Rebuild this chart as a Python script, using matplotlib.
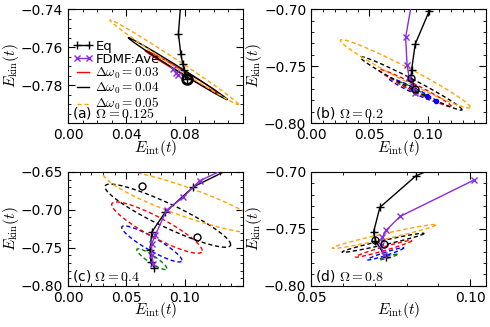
import numpy as np
import matplotlib
matplotlib.use("Agg")
import matplotlib.pyplot as plt
from matplotlib.ticker import AutoMinorLocator

plt.rcParams['mathtext.fontset'] = 'cm'
plt.rcParams['font.family'] = ['DejaVu Sans']
plt.rcParams['font.size'] = 10

PURPLE = 'blueviolet'
ORANGE = 'orange'

# panel settings
panel_tags = ['(a) $\\Omega=0.125$', '(b) $\\Omega=0.2$', '(c) $\\Omega=0.4$', '(d) $\\Omega=0.8$']
xlims = [(0.0, 0.12), (0.0, 0.15), (0.0, 0.15), (0.05, 0.105)]
ylims = [(-0.80, -0.74), (-0.80, -0.70), (-0.80, -0.65), (-0.80, -0.70)]
xticks = [[0.0, 0.04, 0.08], [0.0, 0.05, 0.10], [0.0, 0.05, 0.10], [0.05, 0.10]]
yticks = [[-0.78, -0.76, -0.74], [-0.80, -0.75, -0.70], [-0.80, -0.75, -0.70, -0.65], [-0.80, -0.75, -0.70]]

# equilibrium path (Eq)
eq_x = [
    [0.0780, 0.0757, 0.0773, 0.0787, 0.0795, 0.0805, 0.0815],
    [0.108, 0.1011, 0.0892, 0.0861, 0.0855, 0.0869, 0.0892],
    [0.140, 0.1075, 0.0832, 0.0717, 0.0703, 0.0709, 0.0740],
    [0.090, 0.0829, 0.0716, 0.0696, 0.0702, 0.0734],
]
eq_y = [
    [-0.730, -0.7529, -0.7636, -0.7689, -0.7720, -0.7746, -0.7766],
    [-0.690, -0.7020, -0.7307, -0.7535, -0.7620, -0.7673, -0.7720],
    [-0.645, -0.6696, -0.7032, -0.7294, -0.7533, -0.7686, -0.7760],
    [-0.695, -0.7035, -0.7311, -0.7529, -0.7603, -0.7747],
]

# FDMF:Ave path
fd_x = [
    [0.0723, 0.0741, 0.0753],
    [0.087, 0.0810, 0.0822, 0.0841, 0.0875, 0.0889],
    [0.140, 0.1127, 0.0984, 0.0846, 0.0746, 0.0717, 0.0717, 0.0731],
    [0.1013, 0.0780, 0.0735, 0.0724, 0.0719, 0.0729],
]
fd_y = [
    [-0.7716, -0.7734, -0.7746],
    [-0.690, -0.7246, -0.7488, -0.7605, -0.7684, -0.7737],
    [-0.642, -0.6618, -0.6836, -0.7001, -0.7337, -0.7446, -0.7599, -0.7707],
    [-0.7070, -0.7390, -0.7514, -0.7573, -0.7645, -0.7732],
]

# driven orbits: centre, amplitudes and phase lag of E_int / E_kin
# columns: x0, y0, rx, ry, phi
dw0 = [0.01, 0.02, 0.03, 0.04, 0.05]
orbit_colors = ['green', 'blue', 'red', 'black', ORANGE]
orbits = [
    {0.03: (0.0780, -0.7730, 0.0252, 0.0113, 0.10),
     0.04: (0.0752, -0.7713, 0.0339, 0.0163, 0.08),
     0.05: (0.0728, -0.7680, 0.0441, 0.0223, 0.10)},
    {0.01: (0.0861, -0.7700, 0.0128, 0.0068, 0.25),
     0.02: (0.0868, -0.7708, 0.0206, 0.0105, 0.24),
     0.03: (0.0890, -0.7693, 0.0313, 0.0165, 0.21),
     0.04: (0.0857, -0.7652, 0.0437, 0.0235, 0.19),
     0.05: (0.0807, -0.7568, 0.0557, 0.0300, 0.22)},
    {0.01: (0.0718, -0.7649, 0.0129, 0.0137, 0.45),
     0.02: (0.0718, -0.7448, 0.0258, 0.0238, 0.43),
     0.03: (0.0762, -0.7233, 0.0388, 0.0338, 0.46),
     0.04: (0.0855, -0.7076, 0.0539, 0.0416, 0.42),
     0.05: (0.1000, -0.6890, 0.0700, 0.0420, 0.50)},
    {0.01: (0.0742, -0.7747, 0.0029, -0.0025, 0.40),
     0.02: (0.0734, -0.7719, 0.00575, -0.0054, 0.28),
     0.03: (0.0728, -0.7675, 0.0089, -0.0074, 0.24),
     0.04: (0.0726, -0.7622, 0.0129, -0.0084, 0.24),
     0.05: (0.0729, -0.7567, 0.0163, -0.0105, 0.24)},
]

# open circles on the orbits
circ_x = [[0.0815], [0.0852, 0.0889], [0.0632, 0.1106], [0.0702, 0.0729]]
circ_y = [[-0.7768], [-0.7605, -0.7702], [-0.6680, -0.7362], [-0.7600, -0.7630]]
# filled dots in (b)
dot_x = [0.1074, 0.0989]
dot_y = [-0.7810, -0.7766]

fig, axes = plt.subplots(2, 2, figsize=(4.9, 3.27), dpi=100)
fig.subplots_adjust(left=0.139, right=0.992, top=0.972, bottom=0.126, wspace=0.39, hspace=0.43)

t = np.linspace(0, 2 * np.pi, 300)
for i, ax in enumerate(axes.flat):
    for w, c in zip(dw0, orbit_colors):
        if w not in orbits[i]:
            continue
        x0, y0, rx, ry, phi = orbits[i][w]
        if i == 0 and w != 0.05:
            ls = '-'
        else:
            ls = (0, (3, 2))
        ax.plot(x0 + rx * np.cos(t), y0 - ry * np.cos(t + phi), color=c, ls=ls, lw=1.0,
                label='$\\Delta\\omega_0=%.2f$' % w)
    ax.plot(eq_x[i], eq_y[i], '-+', color='black', lw=1, ms=6, label='Eq', zorder=5)
    ax.plot(fd_x[i], fd_y[i], '-x', color=PURPLE, lw=1, ms=5, label='FDMF:Ave', zorder=5)
    ax.plot(circ_x[i], circ_y[i], 'o', mfc='none', mec='black', ms=5 if i else 7,
            mew=1 if i else 2, zorder=6)
    if i == 1:
        ax.plot(dot_x, dot_y, 'o', color='blue', ms=3, zorder=6)

    ax.set_xlim(xlims[i])
    ax.set_ylim(ylims[i])
    ax.set_xticks(xticks[i])
    ax.set_yticks(yticks[i])
    ax.xaxis.set_minor_locator(AutoMinorLocator())
    ax.yaxis.set_minor_locator(AutoMinorLocator())
    ax.tick_params(which='both', direction='in', top=True, right=True, labelsize=10)
    ax.tick_params(which='major', length=5)
    ax.tick_params(which='minor', length=2.5)
    ax.set_xlabel('$E_{\\rm int}(t)$', fontsize=11, labelpad=-3)
    ax.set_ylabel('$E_{\\rm kin}(t)$', fontsize=11)
    ax.yaxis.set_label_coords(-0.27, 0.5)
    ax.text(0.02, 0.02, panel_tags[i], transform=ax.transAxes, fontsize=10, ha='left', va='bottom')

h, l = axes[0, 0].get_legend_handles_labels()
order = [l.index('Eq'), l.index('FDMF:Ave')] + [k for k in range(len(l)) if l[k].startswith('$')]
axes[0, 0].legend([h[k] for k in order], [l[k] for k in order], loc='upper left',
                  bbox_to_anchor=(-0.01, 0.79), frameon=False, fontsize=9.5, handlelength=1.5,
                  handletextpad=0.2, labelspacing=0.0, borderpad=0, numpoints=2)

fig.savefig('out.png', dpi=100)
